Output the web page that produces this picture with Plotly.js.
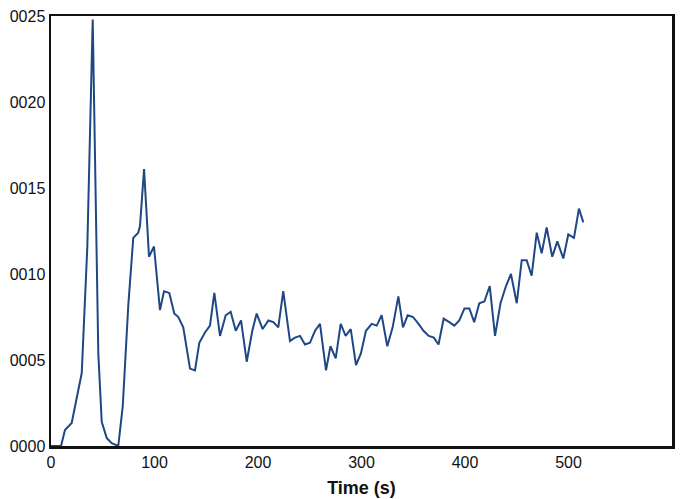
<!DOCTYPE html>
<html>
<head>
<meta charset="utf-8">
<script src="https://cdn.plot.ly/plotly-3.0.1.min.js"></script>
<style>html,body{margin:0;padding:0;background:#fff;}#chart{width:685px;height:499px;}</style>
</head>
<body>
<div id="chart"></div>
<script>
// Time (s)
const timeS = [0, 9.7, 13.5, 20, 29.7, 35.1, 40.3, 45.7, 49, 53.8, 58.6, 65, 69.3, 74.7, 79.5, 84.3, 86, 89.9, 94.7, 99.5,
  105.3, 109.2, 114.3, 119.1, 123, 127.8, 134.3, 139.1, 143.3, 148.8, 153.6, 157.8, 163.3, 168.8, 173.6, 178.5, 183.6, 189.1, 194.5, 198.7,
  204.5, 210, 214.8, 219.6, 224.4, 230.9, 235.7, 240.6, 245.4, 250.2, 255.1, 259.9, 265.7, 270, 275.1, 279.9, 284.7, 289.6, 294.7, 299.5,
  304.3, 309.9, 314.7, 319.5, 324.9, 330.1, 335.6, 340.1, 344.6, 349.8, 355.1, 359.9, 365, 369.9, 374.4, 379.4, 384.8, 389.6, 394.5, 399.5,
  404.2, 408.9, 413.8, 418.7, 423.9, 429, 434.3, 439.6, 444.4, 450, 454.8, 459.6, 464.4, 469.3, 474.1, 478.9, 484.3, 489.2, 495, 499.8,
  505.3, 510.1, 514.3];
// Rate values
const rateValues = [0, 0, 0.000093, 0.000134, 0.000424, 0.00116, 0.00248, 0.00054, 0.00014, 0.000047, 0.000017, 0, 0.00023, 0.00082, 0.00121, 0.00124, 0.00128, 0.00161, 0.0011, 0.00116,
  0.00079, 0.0009, 0.00089, 0.00077, 0.00075, 0.00069, 0.00045, 0.00044, 0.0006, 0.00066, 0.0007, 0.00089, 0.00064, 0.00076, 0.00078, 0.00067, 0.00073, 0.00049, 0.00067, 0.00077,
  0.00068, 0.00073, 0.00072, 0.00069, 0.0009, 0.00061, 0.00063, 0.00064, 0.00059, 0.0006, 0.00067, 0.00071, 0.00044, 0.00058, 0.00051, 0.00071, 0.00064, 0.00068, 0.00047, 0.00054,
  0.00067, 0.00071, 0.0007, 0.00076, 0.00058, 0.00069, 0.00087, 0.00069, 0.00076, 0.00075, 0.00071, 0.00067, 0.00064, 0.00063, 0.00059, 0.00074, 0.00072, 0.0007, 0.00073, 0.0008,
  0.0008, 0.00072, 0.00083, 0.00084, 0.00093, 0.00064, 0.00083, 0.00093, 0.001, 0.00083, 0.00108, 0.00108, 0.00099, 0.00124, 0.00112, 0.00127, 0.0011, 0.00119, 0.00109, 0.00123,
  0.00121, 0.00138, 0.0013];
// Axis ticks
const yTickVals = [0, 0.0005, 0.001, 0.0015, 0.002, 0.0025];
const yTickText = ["0000", "0005", "0010", "0015", "0020", "0025"];
const xTickVals = [0, 100, 200, 300, 400, 500, 600];

const trace = {
  x: timeS,
  y: rateValues,
  type: 'scatter',
  mode: 'lines',
  line: {color: '#1f4785', width: 2},
  hoverinfo: 'skip'
};

const layout = {
  width: 685,
  height: 499,
  margin: {l: 51, r: 13, t: 16, b: 53},
  paper_bgcolor: '#ffffff',
  plot_bgcolor: '#ffffff',
  showlegend: false,
  font: {family: 'Liberation Sans, Arial, sans-serif', color: '#111111'},
  xaxis: {
    range: [0, 600],
    tickvals: xTickVals,
    ticks: '',
    showgrid: false,
    zeroline: false,
    showline: true,
    linecolor: '#111111',
    linewidth: 2.5,
    mirror: true,
    tickfont: {size: 16, color: '#111111'},
    title: {text: '<b>Time (s)</b>', font: {size: 18, color: '#111111'}, standoff: 12}
  },
  yaxis: {
    range: [0, 0.0025],
    tickvals: yTickVals,
    ticktext: yTickText,
    ticks: '',
    showgrid: false,
    zeroline: false,
    showline: true,
    linecolor: '#111111',
    linewidth: 2.5,
    mirror: true,
    tickfont: {size: 16, color: '#111111'}
  }
};

Plotly.newPlot('chart', [trace], layout, {staticPlot: true, displayModeBar: false});
</script>
</body>
</html>
